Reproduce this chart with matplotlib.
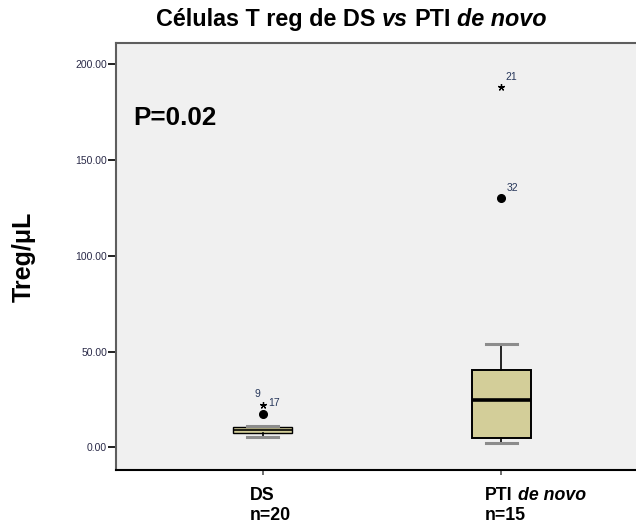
import numpy as np
import matplotlib
matplotlib.use("Agg")
import matplotlib.pyplot as plt

plt.rcParams['font.family'] = ['Liberation Sans', 'DejaVu Sans']

# Treg counts per group (box summary read as quartiles / whisker ends)
groups = ["DS", "PTI de novo"]
n_cases = [20, 15]
q1 = [7.3, 4.7]
median = [9.0, 24.7]
q3 = [10.8, 40.5]
whisker_lo = [5.5, 2.4]
whisker_hi = [11.1, 53.9]

# outliers: group index, value, kind ("o" = outlier, "*" = extreme), case id
out_group = [0, 0, 1, 1]
out_value = [17.2, 22.1, 130.0, 188.0]
out_kind = ["o", "*", "o", "*"]
out_case = ["9", "17", "32", "21"]

p_value = "P=0.02"
y_ticks = [0, 50, 100, 150, 200]

W, H = 636, 527
fig = plt.figure(figsize=(W / 100, H / 100), dpi=100)
fig.patch.set_facecolor("white")
ax = fig.add_axes([116 / W, 57.5 / H, 532 / W, 426.2 / H])
ax.set_facecolor("#F0F0F0")

pos = [1, 2]
stats = []
for i in range(len(groups)):
    stats.append(dict(med=median[i], q1=q1[i], q3=q3[i],
                      whislo=whisker_lo[i], whishi=whisker_hi[i], fliers=[]))
bp = ax.bxp(stats, positions=pos, widths=0.25, showfliers=False, patch_artist=True,
            boxprops=dict(facecolor="#D3CE99", edgecolor="black", linewidth=1.4),
            medianprops=dict(color="black", linewidth=2.6),
            whiskerprops=dict(color="black", linewidth=1.2),
            capprops=dict(color="#8C8C8C", linewidth=2.2), capwidths=0.13)
# the DS box is only a few pixels tall, thinner strokes keep the fill visible
bp["boxes"][0].set_linewidth(1.0)
bp["medians"][0].set_linewidth(1.2)

# outlier markers with their case labels
label_offsets = {"9": (-5.5, 20, "center"), "17": (5.5, 2, "left"),
                 "32": (5.5, 10, "left"), "21": (3.5, 10, "left")}
for g, v, k, c in zip(out_group, out_value, out_kind, out_case):
    xg = pos[g]
    if k == "o":
        ax.plot(xg, v, "o", color="black", ms=5.5, zorder=4)
    else:
        ax.plot(xg, v, marker=(5, 2, 0), color="black", ms=5, mew=0.9, zorder=4)
    dx, dy, ha = label_offsets[c]
    ax.annotate(c, (xg, v), xytext=(dx, dy), textcoords="offset pixels",
                ha=ha, va="center", fontsize=7.5, color="#26365A")

ax.set_xlim(0.387, 2.613)
ax.set_ylim(-11.6, 211.0)
ax.set_yticks(y_ticks)
ax.set_yticklabels(["%.2f" % t for t in y_ticks])
ax.tick_params(axis="y", length=5.5, width=1.4, color="#202020",
               labelsize=7.5, labelcolor="#2A2A48", pad=1)
ax.set_xticks(pos)
ax.set_xticklabels([])
ax.tick_params(axis="x", length=3.5, width=1.2, color="#555555")

for side in ["left", "top"]:
    ax.spines[side].set_color("#5E5E5E")
    ax.spines[side].set_linewidth(1.5)
ax.spines["bottom"].set_color("black")
ax.spines["bottom"].set_linewidth(1.5)
ax.spines["right"].set_visible(False)

ax.text(0.032, 0.808, p_value, transform=ax.transAxes, fontsize=18.7,
        fontweight="bold", va="baseline", ha="left")

ax.set_ylabel("Treg/\u03bcL", fontsize=18, fontweight="bold")
ax.yaxis.set_label_coords(-0.150, 0.5)

renderer = fig.canvas.get_renderer()


def rich_text(x0, y0, parts, size, center=False):
    """Draw bold runs (some italic) one after another, x0/y0 in pixels."""
    space = 0.278 * size * 100 / 72
    items = []
    x = x0
    for j, (s, style) in enumerate(parts):
        if j > 0:
            x += space
        t = fig.text(x / W, y0 / H, s, fontsize=size, fontweight="bold",
                     fontstyle=style, ha="left", va="baseline")
        items.append((t, x))
        x += t.get_window_extent(renderer).width
    if center:
        shift = (x - x0) / 2
        for t, xs in items:
            t.set_x((xs - shift) / W)


rich_text(351.5, H - 26, [("Células T reg de DS", "normal"), ("vs", "italic"),
                          ("PTI", "normal"), ("de novo", "italic")],
          16.8, center=True)

# category labels under the ticks
label_runs = [[("DS", "normal")], [("PTI", "normal"), ("de novo", "italic")]]
label_left = [250, 485]
for i in range(len(groups)):
    rich_text(label_left[i], H - 500, label_runs[i], 12.8)
    rich_text(label_left[i], H - 520, [("n=%d" % n_cases[i], "normal")], 12.8)

fig.savefig("out.png", dpi=100)
